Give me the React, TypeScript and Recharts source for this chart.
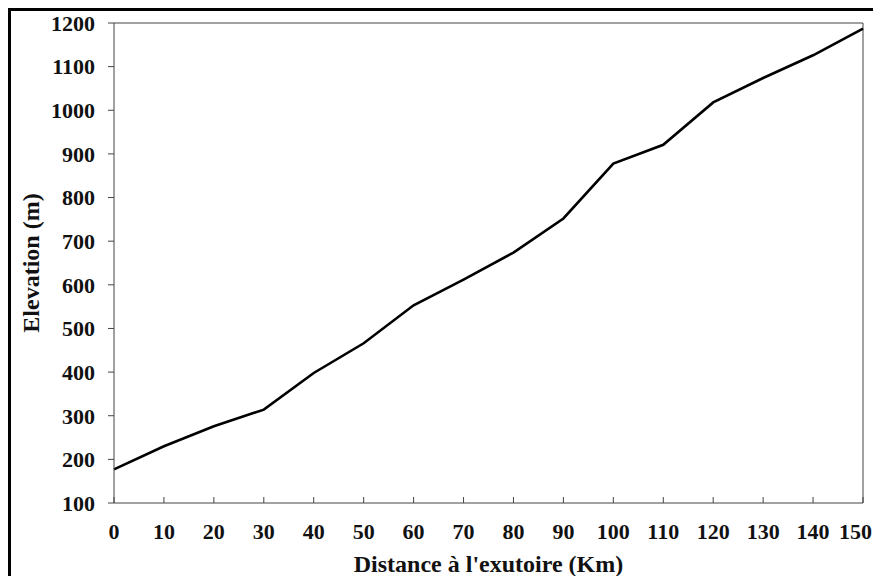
import React from "react";
import { LineChart, Line, XAxis, YAxis, ReferenceLine, Label } from "recharts";

const distances = [0, 10, 20, 30, 40, 50, 60, 70, 80, 90, 100, 110, 120, 130, 140, 150];
const elevations = [177, 230, 276, 314, 398, 466, 553, 612, 674, 752, 878, 921, 1018, 1074, 1126, 1187];
const xTicks = [0, 10, 20, 30, 40, 50, 60, 70, 80, 90, 100, 110, 120, 130, 140, 150];
const yTicks = [100, 200, 300, 400, 500, 600, 700, 800, 900, 1000, 1100, 1200];
const xTitle = "Distance à l'exutoire (Km)";
const yTitle = "Elevation (m)";

const data = distances.map((d, i) => ({ d, e: elevations[i] }));

const FONT = "'Liberation Serif', 'Times New Roman', serif";
const AXIS = "#444";
const TXT = "#111";

const XTick = (props: any) => {
  const { x, y, payload, index } = props;
  const isLast = index === xTicks.length - 1;
  return (
    <g>
      <line x1={x} y1={y} x2={x} y2={y - 6} stroke={AXIS} strokeWidth={1} />
      <text
        x={x}
        y={y + 36}
        dx={isLast ? 9 : 0}
        textAnchor={isLast ? "end" : "middle"}
        fontFamily={FONT}
        fontSize={22}
        fontWeight="bold"
        fill={TXT}
      >
        {payload.value}
      </text>
    </g>
  );
};

export default function App() {
  return (
    <div
      style={{
        width: 873,
        height: 568,
        borderTop: "3px solid #000",
        borderLeft: "3px solid #000",
        boxSizing: "border-box",
        background: "#fff",
      }}
    >
      <LineChart
        width={862}
        height={570}
        data={data}
        margin={{ top: 12, right: 10, left: 0, bottom: 0 }}
      >
        <XAxis
          dataKey="d"
          type="number"
          domain={[0, 150]}
          ticks={xTicks}
          height={78}
          interval={0}
          tickLine={false}
          tickSize={0}
          tickMargin={0}
          axisLine={{ stroke: AXIS, strokeWidth: 1 }}
          tick={<XTick />}
        >
          <Label
            content={(p: any) => {
              const vb = p.viewBox;
              return (
                <text
                  x={vb.x + vb.width / 2}
                  y={vb.y + 69}
                  textAnchor="middle"
                  fontFamily={FONT}
                  fontSize={24}
                  fontWeight="bold"
                  fill={TXT}
                >
                  {xTitle}
                </text>
              );
            }}
          />
        </XAxis>
        <YAxis
          type="number"
          domain={[100, 1200]}
          ticks={yTicks}
          width={103}
          interval={0}
          tickSize={6}
          tickMargin={13}
          tickLine={{ stroke: AXIS }}
          axisLine={{ stroke: AXIS, strokeWidth: 1 }}
          tick={{ fontFamily: FONT, fontSize: 22, fontWeight: "bold", fill: TXT }}
        >
          <Label
            content={(p: any) => {
              const vb = p.viewBox;
              const cx = vb.x + 20;
              const cy = vb.y + vb.height / 2;
              return (
                <text
                  x={cx}
                  y={cy}
                  dy={8}
                  transform={`rotate(-90 ${cx} ${cy})`}
                  textAnchor="middle"
                  fontFamily={FONT}
                  fontSize={24}
                  fontWeight="bold"
                  fill={TXT}
                >
                  {yTitle}
                </text>
              );
            }}
          />
        </YAxis>
        <ReferenceLine y={1200} stroke={AXIS} strokeWidth={1} />
        <ReferenceLine x={150} stroke={AXIS} strokeWidth={1} />
        <Line
          type="linear"
          dataKey="e"
          stroke="#000"
          strokeWidth={2.6}
          dot={false}
          isAnimationActive={false}
        />
      </LineChart>
    </div>
  );
}
